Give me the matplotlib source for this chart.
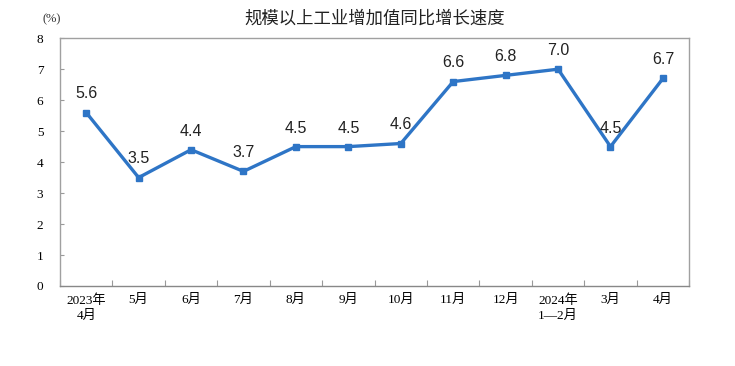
import matplotlib
matplotlib.use("Agg")
import matplotlib.pyplot as plt
import numpy as np

# 数据
yue = ["2023年\n4月", "5月", "6月", "7月", "8月", "9月", "10月", "11月", "12月",
       "2024年\n1—2月", "3月", "4月"]
zengsu = [5.6, 3.5, 4.4, 3.7, 4.5, 4.5, 4.6, 6.6, 6.8, 7.0, 4.5, 6.7]
y_ticks = [0, 1, 2, 3, 4, 5, 6, 7, 8]

cor = "#2E75C6"
serif = ["Liberation Serif", "Noto Sans CJK SC"]

fig = plt.figure(figsize=(7.35, 3.66), dpi=100)
ax = fig.add_axes([0.0816, 0.2186, 0.856, 0.677])

x = np.arange(len(zengsu))
ax.plot(x, zengsu, color=cor, linewidth=2.4, marker="s", markersize=5, zorder=3)
for xi, v in zip(x, zengsu):
    ax.annotate(f"{v:.1f}", (xi, v), xytext=(0, 8), textcoords="offset points",
                ha="center", va="bottom", fontsize=11.5, family="Liberation Sans",
                color="#222222")

ax.set_xlim(-0.5, len(zengsu) - 0.5)
ax.set_ylim(0, 8)
ax.set_yticks(y_ticks)
ax.set_yticklabels([str(t) for t in y_ticks], family=serif, fontsize=9.5)

# 刻度线在类别之间
ax.set_xticks(np.arange(len(zengsu) + 1) - 0.5)
ax.set_xticklabels([])
ax.set_xticks(x, minor=True)
ax.set_xticklabels(yue, minor=True, family=serif, fontsize=9.5, linespacing=1.3)
ax.tick_params(axis="x", which="minor", length=0, pad=6)
ax.tick_params(axis="x", which="major", direction="in", length=4, color="#999999")
ax.tick_params(axis="y", direction="in", length=3, color="#999999", pad=12)

for s in ax.spines.values():
    s.set_color("#a0a0a0")
    s.set_linewidth(1.0)
ax.spines["bottom"].set_color("#888888")

fig.text(0.51, 0.95, "规模以上工业增加值同比增长速度", ha="center", va="center",
         fontsize=12.5, family=["Noto Sans CJK SC", "DejaVu Sans"], color="#222222")
fig.text(0.071, 0.948, "(%)", ha="center", va="center", fontsize=9, family=serif,
         color="#333333")

fig.savefig("out.png", dpi=100)
